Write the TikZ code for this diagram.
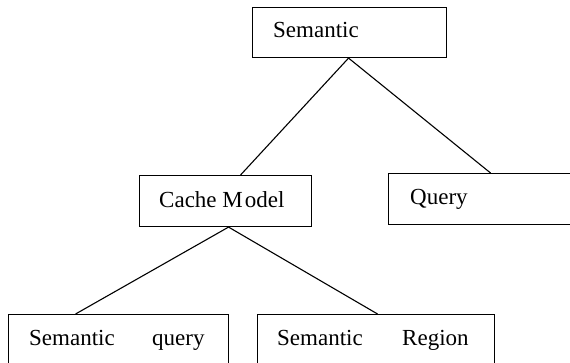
\documentclass[tikz,border=0pt]{standalone}
\usepackage{fontspec}
\setmainfont{Liberation Serif}
\begin{document}
\begin{tikzpicture}[x=1pt,y=-1pt,
  box/.style={draw, line width=1.1pt, inner sep=0pt, anchor=north west},
  lbl/.style={anchor=base west, inner sep=0pt, font=\fontsize{23}{27}\selectfont},
  edge/.style={line width=1.1pt}]
\useasboundingbox (0,0) rectangle (570,363);
\clip (0,0) rectangle (570,363);
\node[box, minimum width=194pt, minimum height=50pt] (sem) at (252,7) {};
\node[box, minimum width=172pt, minimum height=51pt] (cm) at (139,175) {};
\node[box, minimum width=250pt, minimum height=51pt] (q) at (388,173) {};
\node[box, minimum width=220pt, minimum height=80pt] (bl) at (8,314) {};
\node[box, minimum width=237pt, minimum height=80pt] (br) at (257,314) {};
\node[lbl] (tsem) at (273,38) {Semantic};
\node[lbl] (tcm) at (159,208) {Cache M\kern2pt odel};
\node[lbl] (tq) at (410,205) {Query};
\node[lbl] (tbl1) at (29,345) {Semantic};
\node[lbl] (tbl2) at (152,345) {query};
\node[lbl] (tbr1) at (277,345) {Semantic};
\node[lbl] (tbr2) at (402,345) {Region};
\draw[edge] ([xshift=-1pt]sem.south) -- ([xshift=15pt]cm.north);
\draw[edge] ([xshift=-1pt]sem.south) -- ([xshift=-23pt]q.north);
\draw[edge] ([xshift=3pt]cm.south) -- ([xshift=-43pt]bl.north);
\draw[edge] ([xshift=3pt]cm.south) -- ([xshift=1.5pt]br.north);
\end{tikzpicture}
\end{document}
